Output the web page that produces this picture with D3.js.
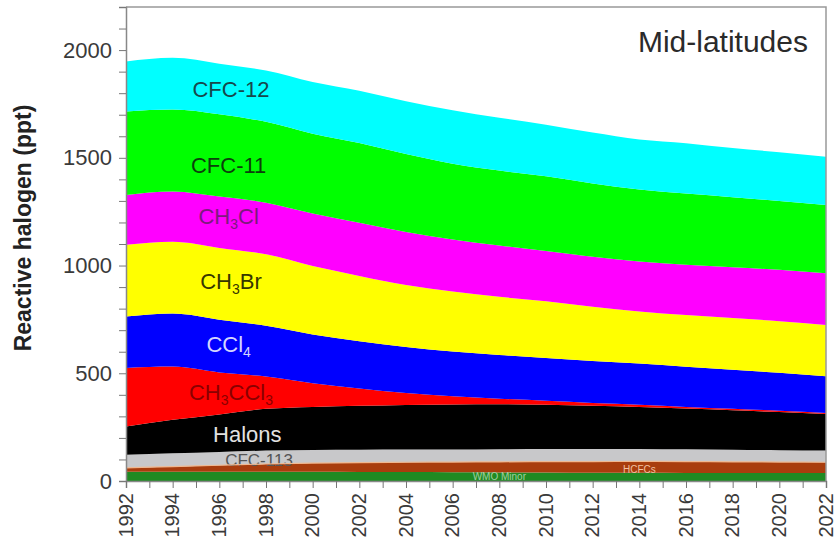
<!DOCTYPE html>
<html>
<head>
<meta charset="utf-8">
<script src="https://cdn.jsdelivr.net/npm/d3@7"></script>
<style>
  body { margin: 0; background: #fff; }
  svg text { font-family: "Liberation Sans", Arial, Helvetica, sans-serif; }
</style>
</head>
<body>
<script>
// values, ppt of equivalent reactive halogen, every 2 years
var years    = [1992,1994,1996,1998,2000,2002,2004,2006,2008,2010,2012,2014,2016,2018,2020,2022];
var wmoMinor = [43,43,43,43,43,42,42,41,40,39,38,38,37,37,37,37];
var hcfcs    = [18,24,30,36,40,43,45,47,49,51,52,53,53,52,51,50];
var cfc113   = [61,62,62,62,61,60,59,58,58,58,58,58,57,56,55,54];
var halons   = [131,155,174,194,200,204,207,209,209,206,201,195,189,183,177,170];
var ch3ccl3  = [272,247,195,150,110,80,55,38,26,18,13,10,8,7,6,5];
var ccl4     = [238,246,245,235,226,220,214,208,203,199,195,191,186,181,176,170];
var ch3br    = [333,333,333,332,318,303,288,278,270,263,252,242,240,240,240,238];
var ch3cl    = [232,234,238,240,244,247,246,242,238,234,232,232,234,236,238,240];
var cfc11    = [387,380,382,375,370,370,362,352,348,346,340,334,330,325,320,317];
var cfc12    = [232,240,235,238,240,242,245,248,245,240,236,232,234,228,226,224];

var yTicks = [0,500,1000,1500,2000];
var xTicks = d3.range(1992, 2023, 2);

var keys   = ["wmo","hcfc","cfc113","halons","ch3ccl3","ccl4","ch3br","ch3cl","cfc11","cfc12"];
var series = [wmoMinor, hcfcs, cfc113, halons, ch3ccl3, ccl4, ch3br, ch3cl, cfc11, cfc12];
var colors = {wmo:"#1f8a22", hcfc:"#a93d0d", cfc113:"#c8c8ca", halons:"#000000", ch3ccl3:"#ff0000",
              ccl4:"#0000ff", ch3br:"#ffff00", ch3cl:"#ff00ff", cfc11:"#00ff00", cfc12:"#00ffff"};

// label text (parts with subscripts) and where it sits, in data units
var labels = [
  {key:"cfc12",   parts:[["CFC-12",0]],                         yr:1996.5, v:1782, size:22, color:"#17484c"},
  {key:"cfc11",   parts:[["CFC-11",0]],                         yr:1996.4, v:1429, size:22, color:"#0c3f0c"},
  {key:"ch3cl",   parts:[["CH",0],["3",1],["Cl",0]],            yr:1996.4, v:1193, size:22, color:"#7d1a7d"},
  {key:"ch3br",   parts:[["CH",0],["3",1],["Br",0]],            yr:1996.5, v:891,  size:22, color:"#363600"},
  {key:"ccl4",    parts:[["CCl",0],["4",1]],                    yr:1996.4, v:599,  size:22, color:"#d4d4ff"},
  {key:"ch3ccl3", parts:[["CH",0],["3",1],["CCl",0],["3",1]],   yr:1996.5, v:376,  size:22, color:"#8a0000"},
  {key:"halons",  parts:[["Halons",0]],                         yr:1997.2, v:181,  size:22, color:"#e2e2e2"},
  {key:"cfc113",  parts:[["CFC-113",0]],                        yr:1997.7, v:70,   size:17, color:"#555555"},
  {key:"hcfc",    parts:[["HCFCs",0]],                          yr:2014.0, v:37,   size:10, color:"#f2c0a0"},
  {key:"wmo",     parts:[["WMO Minor",0]],                      yr:2008.0, v:3,    size:10, color:"#a0d0a0"}
];

var W = 835, H = 550;
var margin = {top: 7, right: 9, bottom: 69, left: 126};
var width = W - margin.left - margin.right,
    height = H - margin.top - margin.bottom;

var table = years.map(function(yr, i) {
  var row = {year: yr};
  keys.forEach(function(k, j) { row[k] = series[j][i]; });
  return row;
});

var stacked = d3.stack().keys(keys)(table);

var x = d3.scaleLinear().domain([1992, 2022]).range([0, width]);
var y = d3.scaleLinear().domain([0, 2200]).range([height, 0]);

var svg = d3.select("body").append("svg")
    .attr("width", W).attr("height", H)
  .append("g")
    .attr("transform", "translate(" + margin.left + "," + margin.top + ")");

var area = d3.area()
    .x(function(d) { return x(d.data.year); })
    .y0(function(d) { return y(d[0]); })
    .y1(function(d) { return y(d[1]); })
    .curve(d3.curveMonotoneX);

function drawLabel(l) {
  var t = svg.append("text")
      .attr("x", x(l.yr)).attr("y", y(l.v))
      .attr("text-anchor", "middle")
      .style("font-size", l.size + "px")
      .style("fill", l.color);
  var shift = 0;
  l.parts.forEach(function(p) {
    var off = p[1] ? 5 : 0;
    t.append("tspan")
      .attr("dy", off - shift)
      .style("font-size", p[1] ? Math.round(l.size * 0.62) + "px" : null)
      .text(p[0]);
    shift = off;
  });
}

stacked.forEach(function(layer) {
  svg.append("path")
    .datum(layer)
    .attr("d", area)
    .attr("fill", colors[layer.key]);
  // CFC-113 label sits partly under the halon band in the original
  if (layer.key === "cfc113") drawLabel(labels.filter(function(l) { return l.key === "cfc113"; })[0]);
});

// thin peach edge between HCFCs and CFC-113
var hcfcLayer = stacked[1];
svg.append("path")
  .datum(hcfcLayer)
  .attr("d", d3.line()
    .x(function(d) { return x(d.data.year); })
    .y(function(d) { return y(d[1]); })
    .curve(d3.curveMonotoneX))
  .attr("fill", "none").attr("stroke", "#f0b890").attr("stroke-width", 1.2);

labels.forEach(function(l) { if (l.key !== "cfc113") drawLabel(l); });

// frame
svg.append("path")
  .attr("d", "M0,0H" + width + "V" + height)
  .attr("fill", "none").attr("stroke", "#999").attr("stroke-width", 1.5);

// y axis: minor ticks every 100, labels every 500
svg.append("g")
  .call(d3.axisLeft(y).tickValues(d3.range(0, 2201, 100)).tickSize(7).tickFormat(""))
  .call(function(g) {
    g.select(".domain").attr("stroke", "#888").attr("stroke-width", 1.5);
    g.selectAll(".tick line").attr("stroke", "#777");
  });
svg.append("g")
  .call(d3.axisLeft(y).tickValues(yTicks).tickSize(0).tickPadding(14).tickFormat(d3.format("d")))
  .call(function(g) {
    g.select(".domain").remove();
    g.selectAll("text").style("font-size", "22px").style("fill", "#3a3a3a");
  });

// x axis: minor ticks every year, labels every 2 years
svg.append("g")
  .attr("transform", "translate(0," + height + ")")
  .call(d3.axisBottom(x).tickValues(d3.range(1992, 2023, 1)).tickSize(7).tickFormat(""))
  .call(function(g) {
    g.select(".domain").attr("stroke", "#888").attr("stroke-width", 1.5);
    g.selectAll(".tick line").attr("stroke", "#777");
  });
svg.append("g")
  .attr("transform", "translate(0," + height + ")")
  .call(d3.axisBottom(x).tickValues(xTicks).tickSize(0).tickFormat(d3.format("d")))
  .call(function(g) {
    g.select(".domain").remove();
    g.selectAll("text")
      .attr("transform", "rotate(-90)")
      .attr("x", -12).attr("y", 0).attr("dy", "0.3em")
      .style("text-anchor", "end")
      .style("font-size", "20px").style("fill", "#3a3a3a");
  });

svg.append("text")
  .attr("transform", "translate(" + (23 - margin.left) + "," + (228 - margin.top) + ") rotate(-90)")
  .attr("text-anchor", "middle")
  .attr("dy", "0.35em")
  .style("font-size", "23px").style("font-weight", "bold").style("fill", "#222")
  .text("Reactive halogen (ppt)");

svg.append("text")
  .attr("x", 808 - margin.left).attr("y", 52 - margin.top)
  .attr("text-anchor", "end")
  .style("font-size", "30px").style("fill", "#2a2a2a")
  .text("Mid-latitudes");
</script>
</body>
</html>
